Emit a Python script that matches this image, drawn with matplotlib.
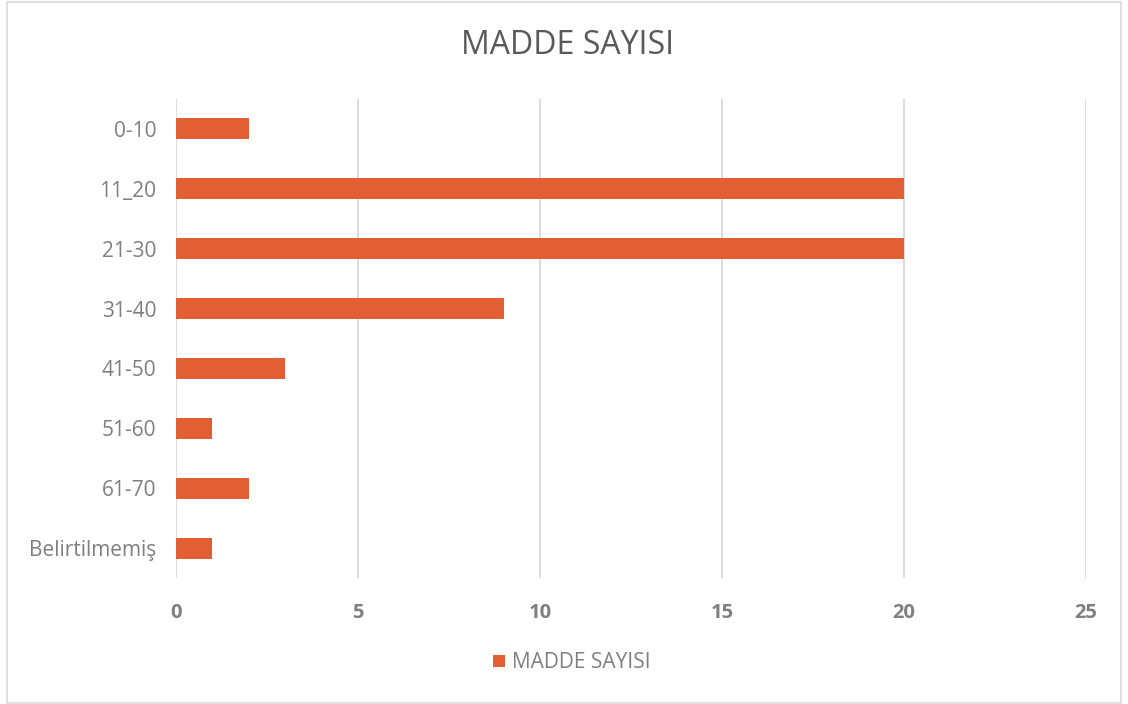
import matplotlib
matplotlib.use("Agg")
import matplotlib.pyplot as plt
from matplotlib.patches import Rectangle

categories = ["0-10", "11_20", "21-30", "31-40", "41-50", "51-60", "61-70", "Belirtilmemiş"]
values = [2, 20, 20, 9, 3, 1, 2, 1]
xticks = [0, 5, 10, 15, 20, 25]
series_name = "MADDE SAYISI"
title = "MADDE SAYISI"

plt.rcParams['font.family'] = ['Open Sans', 'DejaVu Sans']
text_color = "#7F7F7F"
bar_color = "#E15F32"
grid_color = "#D9D9D9"

fig = plt.figure(figsize=(11.28, 7.04), dpi=100)
ax = fig.add_axes([176/1128, 1 - 578/704, (1086-176)/1128, (578-99)/704])

ypos = list(range(len(categories)))
ax.barh(ypos, values, height=0.35, color=bar_color, label=series_name, zorder=3)
ax.set_ylim(len(categories) - 0.5, -0.5)
ax.set_xlim(0, 25)
ax.set_yticks(ypos)
ax.set_yticklabels(categories, fontsize=15, color=text_color)
ax.set_xticks(xticks)
ax.set_xticklabels([str(t) for t in xticks], fontsize=14.5, color=text_color, fontweight='bold')
ax.tick_params(axis='both', length=0)
ax.tick_params(axis='y', pad=14)
ax.tick_params(axis='x', pad=18)
ax.grid(axis='x', color=grid_color, linewidth=1.3, zorder=0)
for s in ax.spines.values():
    s.set_visible(False)

fig.text(568/1128, 1 - 46/704, title, ha='center', va='center', fontsize=23, color="#595959")

leg = fig.legend(loc='center', bbox_to_anchor=(572/1128, 1 - 663/704), frameon=False,
                 fontsize=15, handlelength=0.55, handleheight=0.55, handletextpad=0.35)
for t in leg.get_texts():
    t.set_color(text_color)

fig.patches.append(Rectangle((7/1128, 1/704), (1121-7)/1128, (702-1)/704, transform=fig.transFigure,
                             fill=False, edgecolor=grid_color, linewidth=1.2))

fig.savefig("out.png", dpi=100)
